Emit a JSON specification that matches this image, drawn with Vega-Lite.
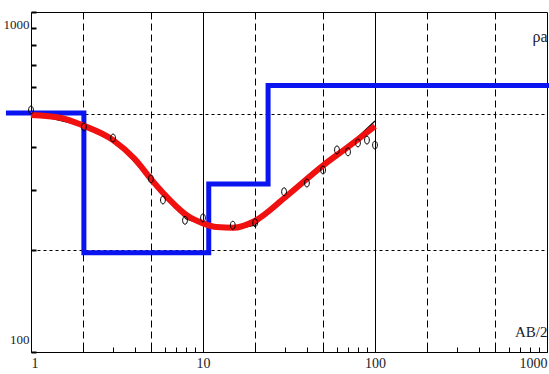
{
  "$schema": "https://vega.github.io/schema/vega-lite/v6.json",
  "width": 516,
  "height": 340,
  "autosize": {"type": "none"},
  "padding": {"left": 31, "top": 12, "right": 2, "bottom": 22},
  "background": "white",
  "view": {"stroke": "black", "strokeWidth": 1},
  "config": {
    "font": "Liberation Sans Narrow",
    "axis": {"labelFont": "Liberation Sans Narrow", "titleFont": "Liberation Sans Narrow", "labelColor": "#1a1a2a", "titleColor": "#1a1a2a", "titleFontWeight": "normal"}
  },
  "datasets": {
    "model": [
      {"i": 1, "x": 0.715, "y": 505},
      {"i": 2, "x": 2.03, "y": 505},
      {"i": 3, "x": 2.03, "y": 196},
      {"i": 4, "x": 10.8, "y": 196},
      {"i": 5, "x": 10.8, "y": 312},
      {"i": 6, "x": 23.9, "y": 312},
      {"i": 7, "x": 23.9, "y": 608},
      {"i": 8, "x": 1030, "y": 608}
    ],
    "fit": [
      {"i": 1, "x": 1, "y": 498},
      {"i": 2, "x": 1.5, "y": 488},
      {"i": 3, "x": 2, "y": 464},
      {"i": 4, "x": 3, "y": 420},
      {"i": 5, "x": 4, "y": 370},
      {"i": 6, "x": 5, "y": 322},
      {"i": 7, "x": 6, "y": 290},
      {"i": 8, "x": 7, "y": 268},
      {"i": 9, "x": 8, "y": 253},
      {"i": 10, "x": 10, "y": 239},
      {"i": 11, "x": 12, "y": 233},
      {"i": 12, "x": 15, "y": 232},
      {"i": 13, "x": 20, "y": 243},
      {"i": 14, "x": 30, "y": 285},
      {"i": 15, "x": 50, "y": 354},
      {"i": 16, "x": 70, "y": 402},
      {"i": 17, "x": 100, "y": 462}
    ],
    "calc": [
      {"i": 1, "x": 1, "y": 503},
      {"i": 2, "x": 2, "y": 462},
      {"i": 3, "x": 3, "y": 424},
      {"i": 4, "x": 5, "y": 320},
      {"i": 5, "x": 6, "y": 284},
      {"i": 6, "x": 8, "y": 246},
      {"i": 7, "x": 10, "y": 237},
      {"i": 8, "x": 15, "y": 229},
      {"i": 9, "x": 20, "y": 236},
      {"i": 10, "x": 30, "y": 287},
      {"i": 11, "x": 50, "y": 352},
      {"i": 12, "x": 70, "y": 404},
      {"i": 13, "x": 100, "y": 478}
    ],
    "obs": [
      {"x": 1, "y": 515},
      {"x": 2.03, "y": 459},
      {"x": 3.0, "y": 426},
      {"x": 4.98, "y": 323},
      {"x": 5.85, "y": 280},
      {"x": 7.86, "y": 244},
      {"x": 10, "y": 248},
      {"x": 14.9, "y": 236},
      {"x": 20.1, "y": 240},
      {"x": 29.6, "y": 296},
      {"x": 40.2, "y": 314},
      {"x": 49.9, "y": 343},
      {"x": 60.1, "y": 393},
      {"x": 69.7, "y": 388},
      {"x": 79.6, "y": 412},
      {"x": 89.8, "y": 420},
      {"x": 100, "y": 406}
    ]
  },
  "encoding": {
    "x": {
      "field": "x", "type": "quantitative",
      "scale": {"type": "log", "domain": [1, 1000], "nice": false},
      "axis": {
        "title": "AB/2",
        "titleX": 516, "titleY": -8, "titleAlign": "right", "titleBaseline": "bottom", "titleAngle": 0, "titleFontSize": 15,
        "values": [1,2,3,4,5,6,7,8,9,10,20,30,40,50,60,70,80,90,100,200,300,400,500,600,700,800,900,1000],
        "labelExpr": "(datum.value == 1 || datum.value == 10 || datum.value == 100 || datum.value == 1000) ? format(datum.value, 'd') : ''",
        "labelOverlap": false,
        "labelFlush": true,
        "labelFontSize": 14,
        "labelPadding": 4,
        "offset": -5,
        "domain": false,
        "tickColor": "black", "tickSize": 5, "tickWidth": 1,
        "grid": true,
        "gridColor": "black",
        "gridWidth": 1,
        "gridOpacity": {"condition": {"test": "datum.value == 2 || datum.value == 5 || datum.value == 10 || datum.value == 20 || datum.value == 50 || datum.value == 100 || datum.value == 200 || datum.value == 500", "value": 1}, "value": 0},
        "gridDash": {"condition": {"test": "datum.value == 10 || datum.value == 100", "value": []}, "value": [7, 4]}
      }
    },
    "y": {
      "field": "y", "type": "quantitative",
      "scale": {"type": "log", "domain": [100, 1000], "nice": false},
      "axis": {
        "title": "ρa",
        "titleX": 496, "titleY": 16, "titleAlign": "left", "titleBaseline": "top", "titleAngle": 0, "titleFontSize": 16,
        "values": [100,200,300,400,500,600,700,800,900,1000],
        "labelExpr": "(datum.value == 100 || datum.value == 1000) ? format(datum.value, 'd') : ''",
        "labelOverlap": false,
        "labelFlush": true,
        "labelFlushOffset": -6,
        "labelFontSize": 13,
        "labelPadding": 2,
        "offset": -5,
        "domain": false,
        "tickColor": "black", "tickSize": 5, "tickWidth": 2,
        "grid": true,
        "gridColor": "black",
        "gridWidth": 1,
        "gridOpacity": {"condition": {"test": "datum.value == 200 || datum.value == 500", "value": 1}, "value": 0},
        "gridDash": [3, 3]
      }
    }
  },
  "layer": [
    {
      "mark": {"type": "rule", "color": "black", "strokeWidth": 2},
      "encoding": {"y": {"datum": 100, "type": "quantitative"}, "x": {"datum": 1, "type": "quantitative"}, "x2": {"datum": 1000}}
    },
    {
      "mark": {"type": "rule", "color": "black", "strokeWidth": 1.5},
      "encoding": {"x": {"datum": 1, "type": "quantitative"}, "y": {"datum": 100, "type": "quantitative"}, "y2": {"datum": 1000}}
    },
    {
      "data": {"name": "model"},
      "mark": {"type": "line", "color": "#0a14f0", "strokeWidth": 5, "strokeJoin": "miter", "clip": false},
      "encoding": {"order": {"field": "i", "type": "quantitative"}}
    },
    {
      "data": {"name": "calc"},
      "mark": {"type": "line", "color": "black", "strokeWidth": 1.2},
      "encoding": {"order": {"field": "i", "type": "quantitative"}}
    },
    {
      "data": {"name": "fit"},
      "mark": {"type": "line", "color": "#f01010", "strokeWidth": 6, "interpolate": "monotone"},
      "encoding": {"order": {"field": "i", "type": "quantitative"}}
    },
    {
      "data": {"name": "obs"},
      "mark": {"type": "point", "shape": "M0,-1A0.6,1 0 1,1 0,1A0.6,1 0 1,1 0,-1Z", "size": 64, "filled": false, "stroke": "black", "strokeWidth": 1, "opacity": 1},
      "encoding": {}
    }
  ]
}
